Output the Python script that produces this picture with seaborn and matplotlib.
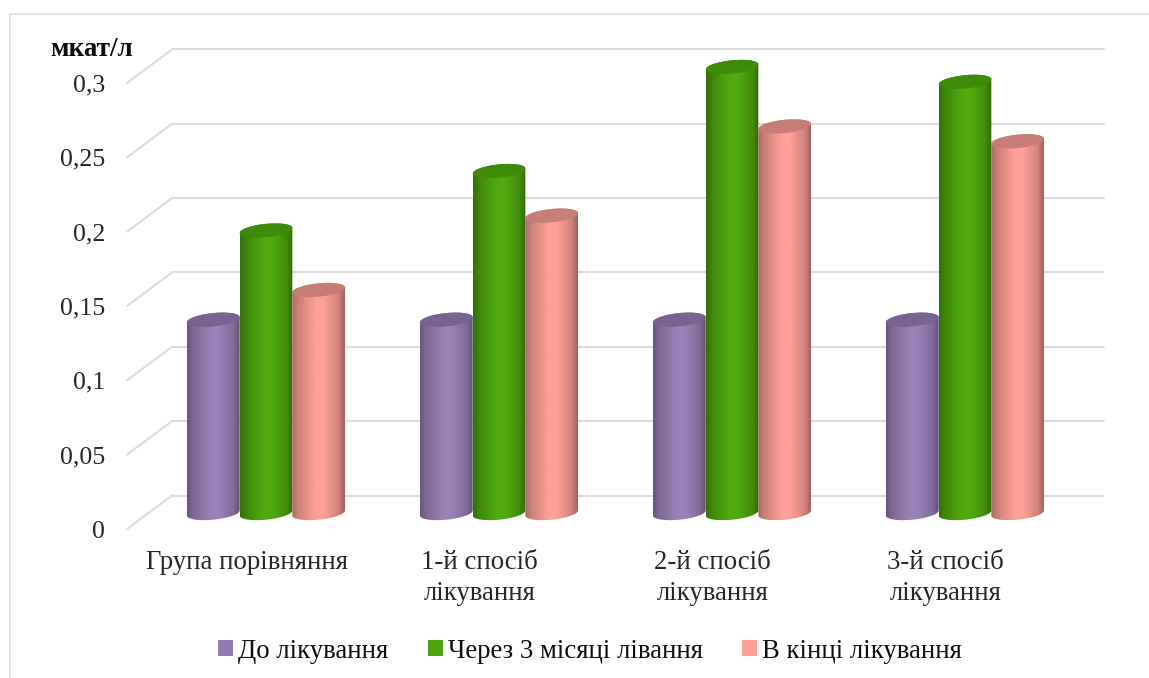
import numpy as np
import pandas as pd
import seaborn as sns
import matplotlib.pyplot as plt
from matplotlib.lines import Line2D
from matplotlib.patches import ConnectionPatch, Patch, Polygon
from matplotlib.path import Path
from matplotlib.transforms import ScaledTranslation

# Values
groups = ['Група порівняння', '1-й спосіб\nлікування', '2-й спосіб\nлікування', '3-й спосіб\nлікування']
series_names = ['До лікування', 'Через 3 місяці лівання', 'В кінці лікування']
before_treatment = [0.13, 0.13, 0.13, 0.13]
after_3_months = [0.19, 0.23, 0.30, 0.29]
end_of_treatment = [0.15, 0.20, 0.26, 0.25]
y_ticks = [0, 0.05, 0.1, 0.15, 0.2, 0.25, 0.3]
y_tick_labels = ['0', '0,05', '0,1', '0,15', '0,2', '0,25', '0,3']

body_colors = ['#9d82ba', '#50aa0d', '#ffa197']
top_colors = ['#77638f', '#3e8a09', '#c67d75']
legend_colors = ['#9478b1', '#4ca30b', '#ff9f96']

W, H = 1149, 678
PX_PER_UNIT = 1486.7  # vertical pixels per 1 mkat/l

sns.set_theme(style='white')
plt.rcParams['font.family'] = ['Liberation Serif', 'DejaVu Serif']
plt.rcParams['text.color'] = '#0d0d0d'

fig = plt.figure(figsize=(W / 100, H / 100), dpi=100, facecolor='white')


def px_axes(left, right, y_zero, y_low, y_high):
    # axes placed in picture pixels so the three depth planes line up
    bottom = y_zero - y_low * PX_PER_UNIT
    top = y_zero - y_high * PX_PER_UNIT
    ax = fig.add_axes([left / W, 1 - bottom / H, (right - left) / W, (bottom - top) / H])
    ax.patch.set_alpha(0)
    ax.set_ylim(y_low, y_high)
    ax.set_xlim(-0.5, 3.5)
    sns.despine(ax=ax, left=True, bottom=True)
    return ax


# back wall, bars in the middle, labels on the front edge
ax_back = px_axes(172, 1104, 495.5, 0, 0.32)
ax_bars = px_axes(149.5, 1081.5, 513, -0.03, 0.32)
ax_front = px_axes(127, 1059, 529, 0, 0.32)

ax_back.set_xticks([])
ax_back.set_yticks(y_ticks)
ax_back.set_yticklabels([])
ax_back.tick_params(left=False)
ax_back.grid(axis='y', color='#dcdcdc', linewidth=1.5, clip_on=False)
for tick in y_ticks:
    fig.add_artist(ConnectionPatch((0, tick), (0, tick),
                                   coordsA=ax_front.get_yaxis_transform(),
                                   coordsB=ax_back.get_yaxis_transform(),
                                   color='#dcdcdc', linewidth=1.5, zorder=-1))

df = pd.DataFrame({
    'group': groups * 3,
    'series': np.repeat(series_names, len(groups)),
    'value': before_treatment + after_3_months + end_of_treatment,
})
sns.barplot(data=df, x='group', y='value', hue='series', order=groups, hue_order=series_names,
            palette=body_colors, width=0.678, gap=0, legend=False, ax=ax_bars)
ax_bars.set_xlabel('')
ax_bars.set_ylabel('')
ax_bars.set_xticks([])
ax_bars.set_yticks([])


def tilted_ellipse(cx, cy, half_w, start, stop):
    # ellipse arc, right side lifted like the Excel 3D cylinders
    t = np.linspace(start, stop, 60)
    x = cx + half_w * np.cos(t)
    y = cy + 0.0045 * np.sin(t) + 0.0017 * np.cos(t)
    return np.column_stack([x, y])


shade = np.interp(np.linspace(0, 1, 120), [0, 0.12, 0.45, 0.6, 0.88, 1], [0.66, 0.8, 1, 1, 0.82, 0.62])

for i, container in enumerate(ax_bars.containers):
    rgb = np.array(plt.matplotlib.colors.to_rgb(body_colors[i]))
    gradient = (shade[:, None] * rgb)[None, :, :]
    for bar in container:
        x0, w, h = bar.get_x(), bar.get_width(), bar.get_height()
        cx = x0 + w / 2
        bar.set_visible(False)
        # cylinder side: bottom half of base ellipse, then upper half of the top one
        base = tilted_ellipse(cx, 0, w / 2, np.pi, 2 * np.pi)
        top = tilted_ellipse(cx, h, w / 2, 0, np.pi)
        outline = np.vstack([base, top, base[:1]])
        img = ax_bars.imshow(gradient, extent=[x0, x0 + w, -0.03, h + 0.01], aspect='auto',
                             interpolation='bilinear', zorder=2 + i)
        img.set_clip_path(Path(outline), transform=ax_bars.transData)
        ax_bars.add_patch(Polygon(tilted_ellipse(cx, h, w / 2, 0, 2 * np.pi), closed=True,
                                  facecolor=top_colors[i], edgecolor='none', zorder=2 + i))
ax_bars.set_xlim(-0.5, 3.5)
ax_bars.set_ylim(-0.03, 0.32)

ax_front.set_xticks(range(len(groups)))
ax_front.set_xticklabels(groups, fontsize=19.3, linespacing=1.35, va='top')
ax_front.set_yticks(y_ticks)
ax_front.set_yticklabels(y_tick_labels, fontsize=18.6)
ax_front.tick_params(axis='x', bottom=False, pad=9)
ax_front.tick_params(axis='y', left=False, pad=10)
# category labels sit a little right of the front edge centres
for label in ax_front.get_xticklabels():
    label.set_transform(label.get_transform() + ScaledTranslation(0.03, 0, fig.dpi_scale_trans))

fig.text(50 / W, 1 - 50 / H, 'мкат/л', fontsize=19.5, fontweight='bold', va='center', ha='left')

handles = [Patch(facecolor=c, edgecolor='none') for c in legend_colors]
fig.legend(handles, series_names, loc='center', bbox_to_anchor=(590 / W, 1 - 651 / H), ncol=3, frameon=False,
           fontsize=19.3, handlelength=0.56, handleheight=0.56, handletextpad=0.2, columnspacing=1.45)

# chart frame
frame_color = '#e2e2e2'
fig.add_artist(Line2D([9.5 / W, 9.5 / W], [0, 1 - 13.5 / H], color=frame_color, linewidth=1.3))
fig.add_artist(Line2D([9.5 / W, 1], [1 - 13.5 / H, 1 - 13.5 / H], color=frame_color, linewidth=1.3))

plt.savefig('out.png', dpi=100)
